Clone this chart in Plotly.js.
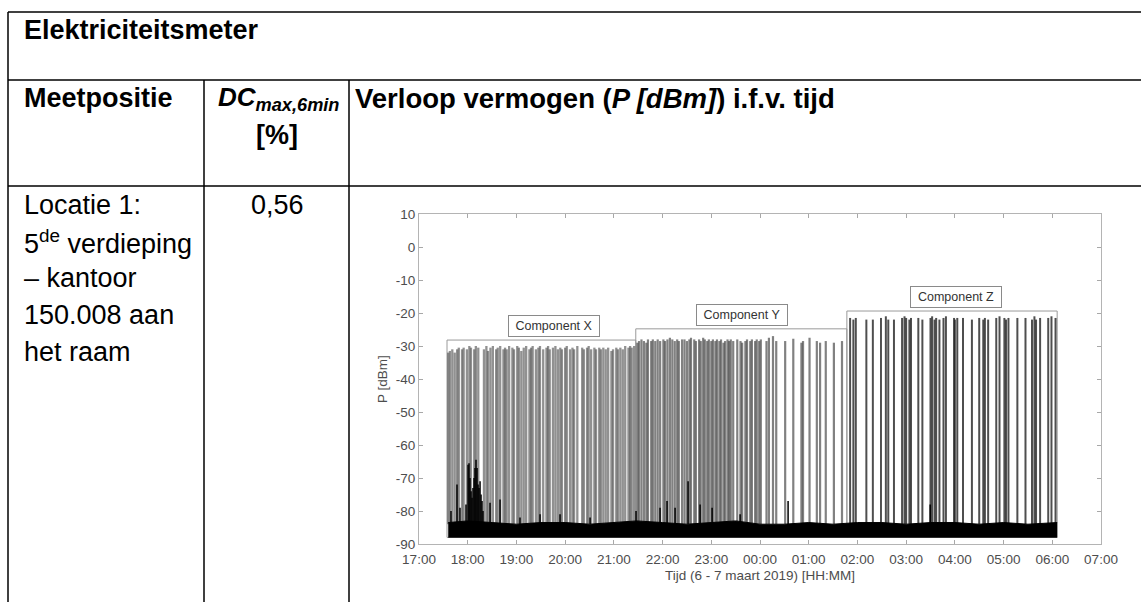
<!DOCTYPE html>
<html><head><meta charset="utf-8">
<script src="https://cdn.plot.ly/plotly-3.0.1.min.js"></script>
<style>html,body{margin:0;padding:0;background:#fff}#chart{width:1141px;height:602px}</style>
</head><body><div id="chart"></div>
<script>
// ---------- table texts ----------
const tableTitle = 'Elektriciteitsmeter';
const colHeaderPos = 'Meetpositie';
const colHeaderDC = '<i>DC<sub>max,6min</sub></i>';
const colHeaderDCUnit = '[%]';
const colHeaderPlot = 'Verloop vermogen (<i>P [dBm]</i>) i.f.v. tijd';
const locationLines = ['Locatie 1:', '5<sup>de</sup> verdieping', '\u2013 kantoor', '150.008 aan', 'het raam'];
const dcValue = '0,56';

// ---------- axis ticks ----------
const yTickVals = [10, 0, -10, -20, -30, -40, -50, -60, -70, -80, -90];
const yTickText = ['10', '0', '-10', '-20', '-30', '-40', '-50', '-60', '-70', '-80', '-90'];

// ---------- chart data (time = minutes after 17:00 on 6 March 2019) ----------
const spikeMinX = [36,38,41,44,47,49,53,55,59,62, 64,68,70,73,80,83,85,88,91,95,
  97,100,104,106,108,111,115,117,121,123, 126,129,132,136,138,140,144,147,149,153,
  157,159,161,165,168,171,174,176,180,182, 186,189,191,195,201,203,207,209,212,216,
  218,222,224,227,230,233,237,239,243,245, 248,251,254,258,260,262,265];
const spikeTopX = [-32,-31.5,-31,-32,-31,-30.5,-31,-30.5,-31,-30, -30.5,-31,-30,-30.5,-31,-30,-31.5,-30.5,-30,-31,
  -30.5,-30,-31,-30.5,-31,-30,-30.5,-31,-30,-30.5, -31.5,-30.5,-30,-31,-30.5,-30,-31,-30.5,-30,-31,
  -30.5,-30,-31,-30.5,-30,-31,-30.5,-31,-30.5,-30, -31,-30.5,-31,-30,-30.5,-31,-30.5,-30,-31,-30.5,
  -31,-30.5,-31,-30.5,-31,-30.5,-31.5,-31,-30.5,-31, -30.5,-31,-30,-30.5,-30,-30.5,-30];

const spikeMinY = [269,271,274,277,280,282,286,288,291,294, 297,301,303,306,309,312,315,318,320,324,
  327,330,333,335,339,341,345,347,350,352, 355,357,360,362,365,367,370,372,375,377,
  380,382,384,387,392,396,398,402,404,408, 410,414,416,419,421,
  428,431,436,440,451,461,471,473,481,490,494,501,511,521];
const spikeTopY = [-29,-28.5,-28,-28.5,-29,-28,-28.5,-28,-28.5,-28, -28.5,-28,-28.5,-28,-27.5,-28,-28.5,-28,-28.5,-28,
  -28,-28.5,-28,-27.5,-28,-28.5,-28,-28.5,-27.5,-28, -28.5,-28,-28.5,-28,-28.5,-28,-28.5,-28,-29,-28.5,
  -28,-28.5,-28,-28.5,-28,-28.5,-29,-28.5,-28,-28.5, -28,-28.5,-28,-28.5,-28,
  -28.5,-27.5,-27,-28.5,-28.5,-27.8,-29,-28.5,-27.5,-28.5,-29,-28.5,-29,-28.5];

const spikeMinZ = [531,535,538,551,559,569,575,578,585,595, 598,600,604,606,615,620,630,632,635,637,
  641,646,649,659,660,663,670,681,690,695, 697,701,711,715,721,723,726,737,747,755,
  758,760,765,775,779,784];
const spikeTopZ = [-21.5,-22,-21.5,-22,-22,-21.5,-21,-22,-22,-21.5, -21,-21.5,-22,-21.5,-21.5,-22,-21.5,-21,-22,-21.5,
  -22,-21.5,-21,-21.5,-22,-21.5,-21.5,-22,-21.5,-22, -21.5,-22,-21.5,-21,-21.5,-22,-21.5,-21.5,-21.5,-22,
  -21,-22,-21.5,-21.5,-21,-21.5];

// short low-level bursts above the noise floor
const burstMin = [39.4,46.8,50.5,57.9,60.4,61.6,62.8,64.1,65.3,66.5,67.8,69.0,70.2,71.5,72.7,73.9,75.2,76.4,77.6,78.8,
  87.5,99.8,124.4,149.1,173.7,210.7,267.3,296.9,305.5,315.4,331.4,346.2,361.0,395.5,454.6,629.6];
const burstTop = [-80,-72,-79,-78,-66,-65.5,-70,-74,-76,-73,-70,-67,-64.5,-67,-72,-73,-71,-75,-77,-80,
  -77.5,-76.5,-82,-81,-81,-82,-80,-79,-77,-79,-71,-78,-79,-81,-77,-78];

// noise floor envelope
const floorMin = [36,60,90,120,150,180,210,240,268,300,330,360,390,420,450,480,510,540,570,600,630,660,690,720,750,786];
const floorTop = [-83.5,-83,-83.5,-84,-83.5,-83.5,-84,-83.5,-83,-83.5,-84,-83.5,-83,-84,-84,-83.5,-84,-83.5,-83.5,-84,-83.5,-83.5,-84,-83.5,-84,-83.5];
const floorBottom = -88;
const spikeBase = -84;

// component regions
const compNames = ['Component X', 'Component Y', 'Component Z'];
const compStart = [34.5, 267, 527];
const compEnd = [267, 527, 786];
const compLevel = [-28.2, -24.8, -19.4];
const compLabelMin = [166, 398, 662];
const compLabelY = [-24, -20.5, -15.2];

// ---------- helpers ----------
function pad(n){ return (n < 10 ? '0' : '') + n; }
function toDate(m){
  const s = Math.round((17*60 + m) * 60);
  const day = 6 + Math.floor(s / 86400);
  const r = s % 86400;
  const hh = Math.floor(r / 3600), mm = Math.floor((r % 3600) / 60), ss = r % 60;
  return '2019-03-' + pad(day) + ' ' + pad(hh) + ':' + pad(mm) + ':' + pad(ss);
}
function spikeTrace(mins, tops, base, color, width){
  const x = [], y = [];
  const n = Math.min(mins.length, tops.length);
  for (let i = 0; i < n; i++){ const t = toDate(mins[i]); x.push(t, t, null); y.push(base, tops[i], null); }
  return {type:'scatter', mode:'lines', x:x, y:y, line:{color:color, width:width}, hoverinfo:'skip', showlegend:false};
}

const FONT = 'Liberation Sans, Arial, Helvetica, sans-serif';
const W = 1141, H = 602;
const px = v => v / W, py = v => 1 - v / H;

const traces = [];
traces.push(spikeTrace(spikeMinX, spikeTopX, spikeBase, 'rgba(55,55,55,0.55)', 2.3));
traces.push(spikeTrace(spikeMinY, spikeTopY, spikeBase, 'rgba(45,45,45,0.6)', 2.2));
traces.push(spikeTrace(spikeMinZ, spikeTopZ, spikeBase, 'rgba(35,35,35,0.8)', 2));
traces.push(spikeTrace(burstMin, burstTop, spikeBase, '#000', 1.5));
traces.push({type:'scatter', mode:'lines', x:floorMin.map(toDate), y:floorMin.map(() => floorBottom),
  line:{color:'#000', width:0.5}, hoverinfo:'skip', showlegend:false});
traces.push({type:'scatter', mode:'lines', x:floorMin.map(toDate), y:floorTop, fill:'tonexty', fillcolor:'#000',
  line:{color:'#000', width:1}, hoverinfo:'skip', showlegend:false});

// ---------- shapes ----------
const shapes = [];
const tl = {color:'#000', width:1.5};
shapes.push({type:'line', xref:'paper', yref:'paper', x0:px(8), x1:1, y0:py(12), y1:py(12), line:tl});
shapes.push({type:'line', xref:'paper', yref:'paper', x0:px(8), x1:1, y0:py(80), y1:py(80), line:tl});
shapes.push({type:'line', xref:'paper', yref:'paper', x0:px(8), x1:1, y0:py(186), y1:py(186), line:tl});
shapes.push({type:'line', xref:'paper', yref:'paper', x0:px(8), x1:px(8), y0:py(12), y1:0, line:tl});
shapes.push({type:'line', xref:'paper', yref:'paper', x0:px(204), x1:px(204), y0:py(80), y1:0, line:tl});
shapes.push({type:'line', xref:'paper', yref:'paper', x0:px(349), x1:px(349), y0:py(80), y1:0, line:tl});
for (let i = 0; i < compNames.length; i++){
  shapes.push({type:'rect', xref:'x', yref:'y', layer:'below', x0:toDate(compStart[i]), x1:toDate(compEnd[i]),
    y0:floorBottom, y1:compLevel[i], line:{color:'#9a9a9a', width:1}, fillcolor:'rgba(0,0,0,0)'});
}

// ---------- annotations ----------
const ann = [];
function txt(t, x, y, size, anchor){
  ann.push({xref:'paper', yref:'paper', x:px(x), y:py(y), text:t, showarrow:false, xanchor:anchor||'left', yanchor:'middle',
    font:{family:FONT, size:size, color:'#000'}});
}
txt('<b>' + tableTitle + '</b>', 22, 30, 27);
txt('<b>' + colHeaderPos + '</b>', 22, 98, 27);
txt('<b>' + colHeaderDC + '</b>', 278, 98, 26, 'center');
txt('<b>' + colHeaderDCUnit + '</b>', 277, 135, 27, 'center');
txt('<b>' + colHeaderPlot + '</b>', 353, 98, 27.5);
locationLines.forEach((l, i) => txt(l, 22, 205 + i * 36.7, 27));
txt(dcValue, 277.5, 205, 27, 'center');
for (let i = 0; i < compNames.length; i++){
  ann.push({xref:'x', yref:'y', x:toDate(compLabelMin[i]), y:compLabelY[i], text:compNames[i], showarrow:false,
    font:{family:FONT, size:12.5, color:'#333'}, bgcolor:'#fff', bordercolor:'#8a8a8a', borderwidth:1, borderpad:3,
    width:84, height:14});
}

const tickFont = {family:FONT, size:13.5, color:'#4d4d4d'};
const layout = {
  width:W, height:H, margin:{l:0, r:0, t:0, b:0}, paper_bgcolor:'#fff', plot_bgcolor:'#fff', showlegend:false,
  xaxis:{type:'date', domain:[px(419), px(1101)], range:[toDate(0), toDate(840)], tick0:toDate(0), dtick:3600000,
    tickformat:'%H:%M', ticks:'inside', ticklen:4, tickcolor:'#a8a8a8', showline:true, linecolor:'#b4b4b4', linewidth:1,
    mirror:'ticks', showgrid:false, zeroline:false, tickfont:tickFont, automargin:false, ticklabelstandoff:3,
    title:{text:'Tijd (6 - 7 maart 2019) [HH:MM]', font:tickFont, standoff:4}},
  yaxis:{domain:[1 - 544/H, 1 - 214/H], range:[-90, 10], tickmode:'array', tickvals:yTickVals, ticktext:yTickText,
    ticks:'inside', ticklen:4, tickcolor:'#a8a8a8',
    showline:true, linecolor:'#b4b4b4', linewidth:1, mirror:'ticks', showgrid:false, zeroline:false, tickfont:tickFont,
    automargin:false, title:{text:'P [dBm]', font:tickFont, standoff:5}},
  shapes:shapes, annotations:ann
};
Plotly.newPlot('chart', traces, layout, {staticPlot:true, displayModeBar:false});
</script></body></html>
